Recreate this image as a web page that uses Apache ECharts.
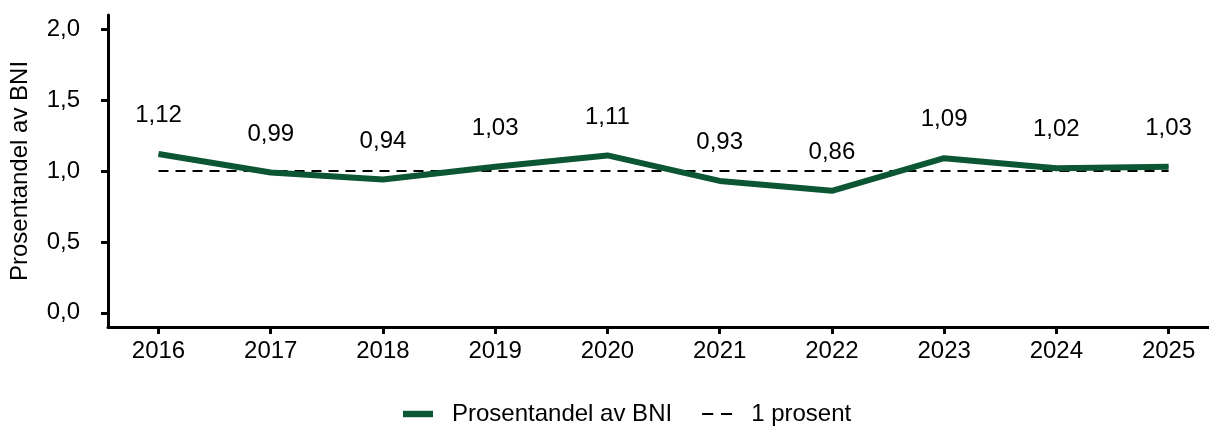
<!DOCTYPE html>
<html lang="no">
<head>
<meta charset="UTF-8">
<title>Prosentandel av BNI</title>
<script src="https://cdn.jsdelivr.net/npm/echarts@6/dist/echarts.min.js"></script>
<style>
  html, body { margin: 0; padding: 0; background: #fff; }
  #main { width: 1209px; height: 428px; }
</style>
</head>
<body>
<div id="main"></div>
<script type="text/javascript">
// data
var years = [2016, 2017, 2018, 2019, 2020, 2021, 2022, 2023, 2024, 2025];
var andel = [1.12, 0.99, 0.94, 1.03, 1.11, 0.93, 0.86, 1.09, 1.02, 1.03];
var enProsent = [1, 1, 1, 1, 1, 1, 1, 1, 1, 1];
var yTicks = [0, 0.5, 1, 1.5, 2];

var font = 'Liberation Sans';
var green = '#0c5633';

function komma(v, d) {
    return v.toFixed(d).replace('.', ',');
}

var myChart = echarts.init(document.getElementById('main'));

var option = {
    animation: false,
    textStyle: { fontFamily: font, color: '#000' },
    grid: { left: 106, right: 0, top: 15, bottom: 101 },
    xAxis: {
        type: 'value',
        min: 2015.55,
        max: 2025.36,
        splitLine: { show: false },
        axisLine: { onZero: false, lineStyle: { color: '#000', width: 3 } },
        axisTick: { show: true, length: 7, lineStyle: { color: '#000', width: 3 }, customValues: years },
        axisLabel: {
            customValues: years,
            margin: 12,
            fontSize: 24,
            color: '#000',
            fontFamily: font,
            formatter: function (v) { return String(Math.round(v)); }
        }
    },
    yAxis: {
        type: 'value',
        min: -0.1,
        max: 2.1,
        name: 'Prosentandel av BNI',
        nameLocation: 'middle',
        nameGap: 76,
        nameTextStyle: { fontSize: 24, color: '#000', fontFamily: font },
        splitLine: { show: false },
        axisLine: { show: true, onZero: false, lineStyle: { color: '#000', width: 3 } },
        axisTick: { show: true, length: 7, lineStyle: { color: '#000', width: 3 }, customValues: yTicks },
        axisLabel: {
            customValues: yTicks,
            margin: 28,
            fontSize: 24,
            color: '#000',
            fontFamily: font,
            formatter: function (v) { return komma(v, 1); }
        }
    },
    legend: {
        bottom: -3,
        left: 398,
        itemWidth: 30,
        itemHeight: 14,
        itemGap: 30,
        textStyle: { fontSize: 24, color: '#000', fontFamily: font, padding: [0, 0, 0, 14] },
        data: [
            { name: 'Prosentandel av BNI', icon: 'path://M0,0H28V6H0Z', itemStyle: { color: green, borderWidth: 0 } },
            { name: '1 prosent', icon: 'path://M0,0H10V2H0Z M17,0H27V2H17Z', itemStyle: { color: '#000', borderWidth: 0 } }
        ]
    },
    series: [
        {
            name: '1 prosent',
            type: 'line',
            symbol: 'none',
            data: years.map(function (y, i) { return [y, enProsent[i]]; }),
            lineStyle: { color: '#000', width: 2, type: [10, 7] },
            itemStyle: { color: '#000' },
            z: 1
        },
        {
            name: 'Prosentandel av BNI',
            type: 'line',
            symbol: 'circle',
            symbolSize: 1,
            data: years.map(function (y, i) { return [y, andel[i]]; }),
            lineStyle: { color: green, width: 6 },
            itemStyle: { color: green },
            label: {
                show: true,
                position: 'top',
                distance: 26,
                fontSize: 24,
                color: '#000',
                fontFamily: font,
                formatter: function (p) { return komma(p.value[1], 2); }
            },
            z: 3
        }
    ]
};

myChart.setOption(option);
</script>
</body>
</html>
